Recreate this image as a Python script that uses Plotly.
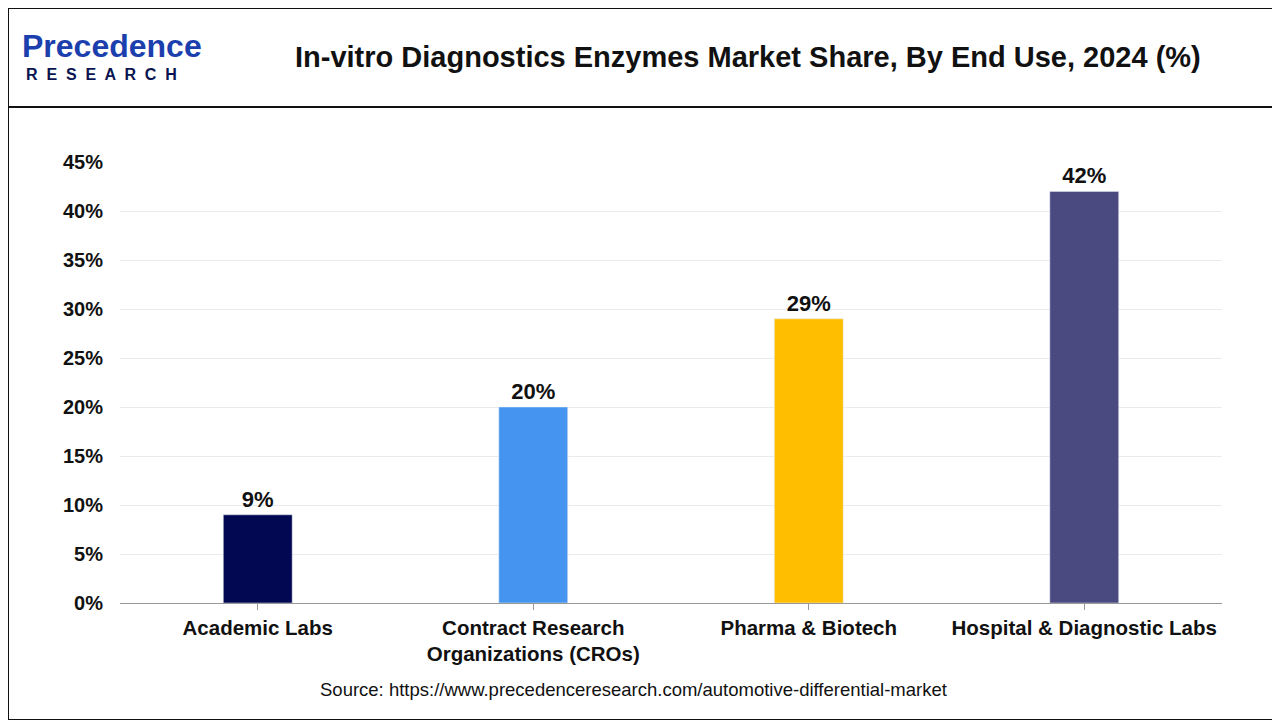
import plotly.graph_objects as go

categories = ["Academic Labs", "Contract Research<br>Organizations (CROs)", "Pharma & Biotech", "Hospital & Diagnostic Labs"]
shares = [9, 20, 29, 42]
colors = ["#020851", "#4595F0", "#FFBF00", "#4A4A80"]
tick_vals = [0, 5, 10, 15, 20, 25, 30, 35, 40, 45]
tick_text = [f"<b>{v}%</b>" for v in tick_vals]

W, H = 1272, 712
L, R, T, B = 112, 58, 154, 117
PW, PH = W - L - R, H - T - B


def px(x):
    return (x - 8 - L) / PW


def py(y):
    return (H - B - (y - 8)) / PH


fig = go.Figure(
    go.Bar(
        x=categories,
        y=shares,
        marker_color=colors,
        width=0.25,
        text=[f"<b>{v}%</b>" for v in shares],
        textposition="outside",
        textfont=dict(size=22, color="#111"),
        cliponaxis=False,
    )
)

fig.update_layout(
    width=W,
    height=H,
    margin=dict(l=L, r=R, t=T, b=B),
    plot_bgcolor="white",
    paper_bgcolor="white",
    font=dict(family="Arial", color="#111"),
    showlegend=False,
    shapes=[
        dict(type="rect", xref="paper", yref="paper", x0=-L / PW, x1=1 + R / PW,
             y0=-B / PH, y1=1 + T / PH, line=dict(color="#111", width=2)),
        dict(type="line", xref="paper", yref="paper", x0=-L / PW, x1=1 + R / PW,
             y0=py(107), y1=py(107), line=dict(color="#111", width=2)),
    ],
    annotations=[
        dict(text="<b>In-vitro Diagnostics Enzymes Market Share, By End Use, 2024 (%)</b>",
             xref="paper", yref="paper", x=px(748), y=py(57), showarrow=False,
             font=dict(size=29, color="#111"), xanchor="center", yanchor="middle"),
        dict(text="<b>Precedence</b>", xref="paper", yref="paper", x=px(20), y=py(46),
             showarrow=False, xanchor="left", yanchor="middle",
             font=dict(size=32, color="#1C3FAE")),
        dict(text="<b>R  E  S  E  A  R  C  H</b>", xref="paper", yref="paper", x=px(24), y=py(74),
             showarrow=False, xanchor="left", yanchor="middle",
             font=dict(size=16, color="#0A1450")),
        dict(text="Source: https://www.precedenceresearch.com/automotive-differential-market",
             xref="paper", yref="paper", x=px(633), y=py(689), showarrow=False,
             yanchor="middle", font=dict(size=18.5, color="#111")),
    ],
)
fig.update_xaxes(showline=True, linecolor="#999", ticks="outside", tickcolor="#999",
                 ticklen=6, tickfont=dict(size=20.5, color="#111"),
                 ticktext=[f"<b>{c}</b>" for c in categories], tickvals=categories)
fig.update_yaxes(range=[0, 45], tickvals=tick_vals, ticktext=tick_text, gridcolor="#ebebeb",
                 tickfont=dict(size=20, color="#111"), zeroline=False, ticklabelstandoff=16)

fig.write_html("out.html")
